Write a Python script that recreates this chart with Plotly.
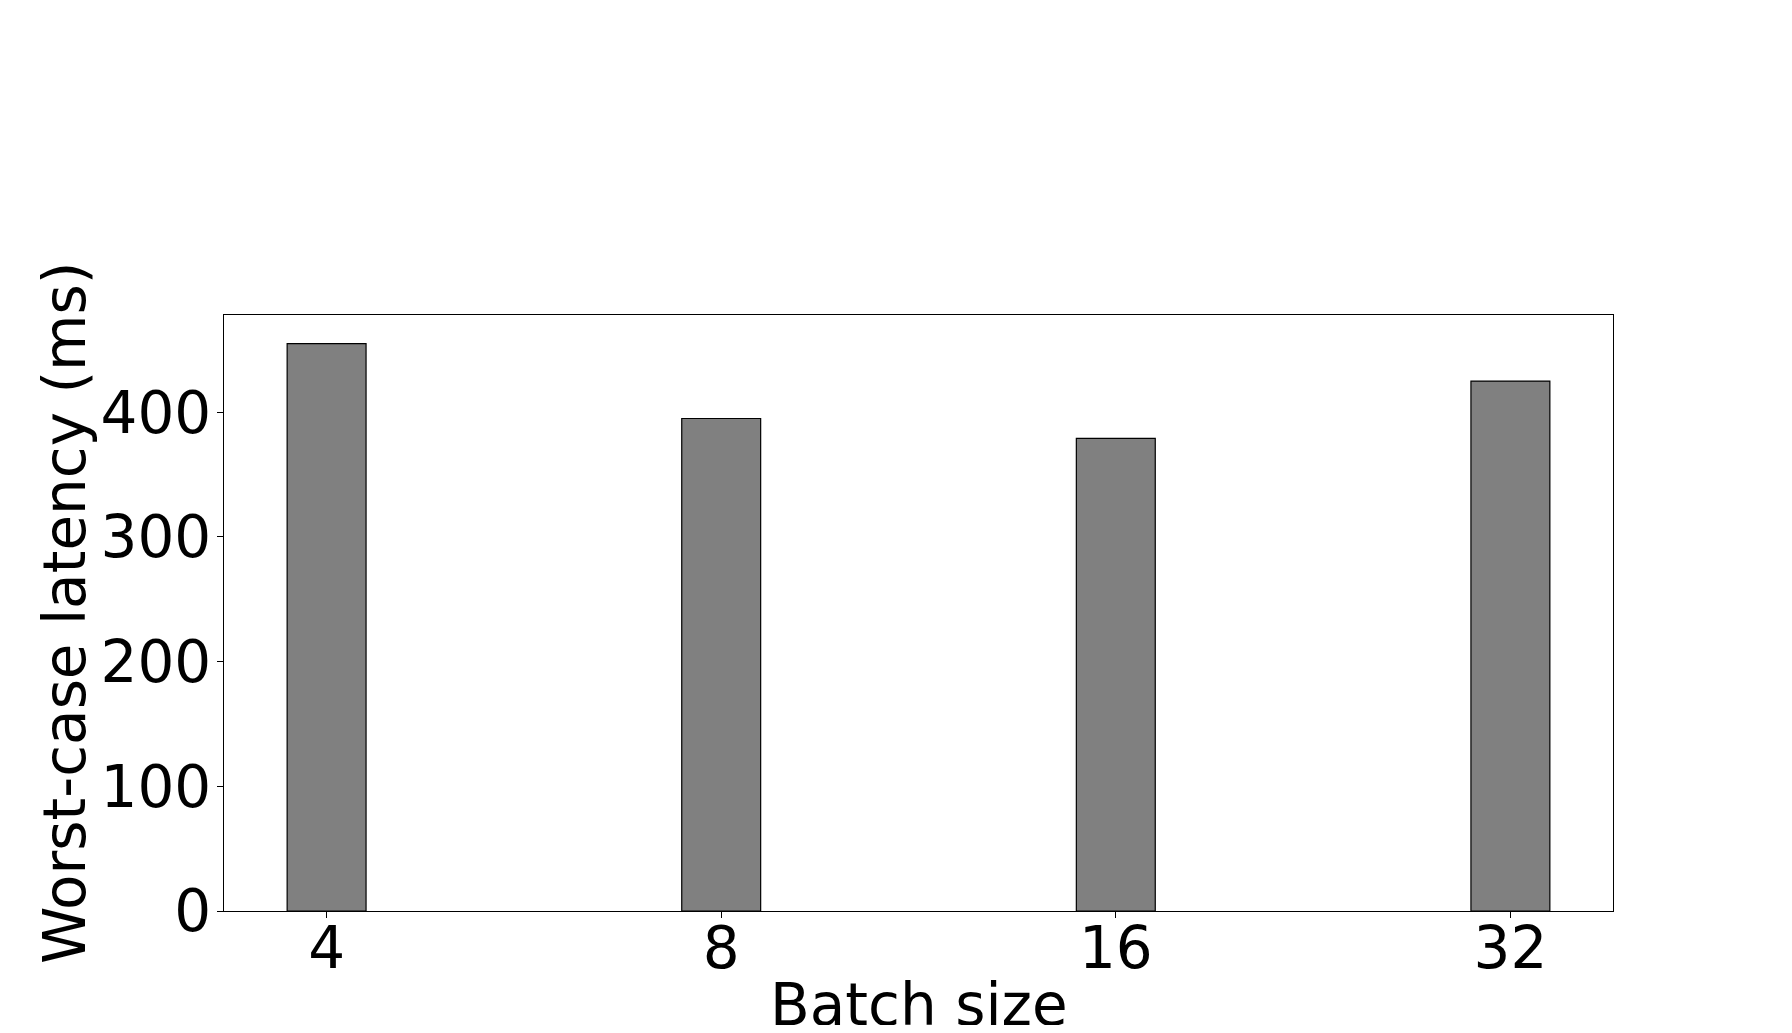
import plotly.graph_objects as go

# Data
batch_sizes = ["4", "8", "16", "32"]
latency_ms = [455, 395, 379, 425]
y_ticks = [0, 100, 200, 300, 400]

FONT = "DejaVu Sans"
FONT_SIZE = 58

fig = go.Figure()
fig.add_trace(go.Bar(
    x=batch_sizes,
    y=latency_ms,
    width=0.2,
    marker=dict(color="#808080", line=dict(color="black", width=1.2)),
    showlegend=False,
))

# axis titles as annotations so they sit where the reference has them
fig.add_annotation(
    text="Batch size", xref="paper", yref="paper", x=0.5, y=-0.157,
    xanchor="center", yanchor="middle", showarrow=False,
    font=dict(family=FONT, size=FONT_SIZE, color="black"),
)
fig.add_annotation(
    text="Worst-case latency (ms)", xref="paper", yref="paper", x=-0.1145, y=0.5,
    xanchor="center", yanchor="middle", textangle=-90, showarrow=False,
    font=dict(family=FONT, size=FONT_SIZE, color="black"),
)

# page body has an 8px margin, so the figure is shrunk by that much
fig.update_layout(
    width=1776,
    height=1017,
    margin=dict(l=216, r=171, t=307, b=114),
    paper_bgcolor="white",
    plot_bgcolor="white",
    font=dict(family=FONT, size=FONT_SIZE, color="black"),
)
fig.update_xaxes(
    type="category",
    range=[-0.26, 3.26],
    automargin=False,
    ticklabelstandoff=-20,
    showline=True, linecolor="black", linewidth=1.3, mirror=True,
    ticks="outside", ticklen=6, tickcolor="black", tickwidth=1.2,
    showgrid=False, zeroline=False,
)
fig.update_yaxes(
    range=[0, 478],
    tickvals=y_ticks,
    automargin=False,
    ticklabelstandoff=-6,
    showline=True, linecolor="black", linewidth=1.3, mirror=True,
    ticks="outside", ticklen=6, tickcolor="black", tickwidth=1.2,
    showgrid=False, zeroline=False,
)

fig.write_html("out.html")
